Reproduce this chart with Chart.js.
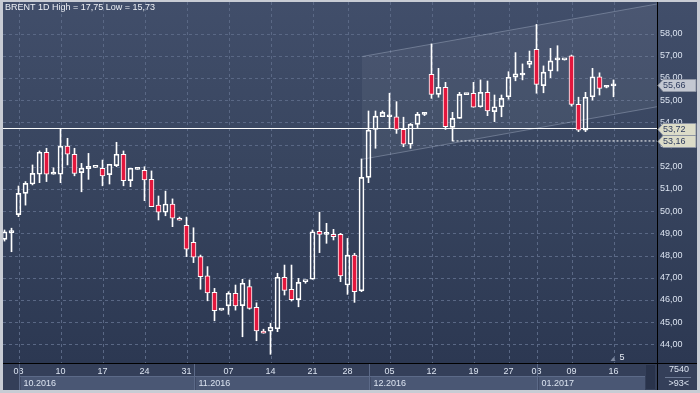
<!DOCTYPE html>
<html>
<head>
<meta charset="utf-8">
<script src="https://cdn.jsdelivr.net/npm/chart.js@4.4.0/dist/chart.umd.min.js"></script>
<style>
  html, body { margin: 0; padding: 0; background: #c8ccd4; }
  canvas { display: block; }
</style>
</head>
<body>
<canvas id="brentChart" width="700" height="393"></canvas>
<script>
// --- data (one candle per trading session, index 0..87) ---
const opens = [48.73, 49.03, 49.84, 50.80, 51.22, 51.66, 52.65, 51.66, 51.66, 52.93,
  52.56, 51.73, 51.91, 51.97, 51.93, 51.64, 52.05, 52.56, 51.37, 51.88,
  51.84, 51.43, 50.27, 49.95, 50.32, 49.68, 49.36, 48.59, 47.95, 47.08,
  46.34, 45.54, 45.73, 46.30, 45.74, 46.60, 45.67, 44.60, 44.59, 44.70,
  47.02, 46.48, 46.01, 46.82, 46.93, 49.09, 48.95, 48.95, 48.95, 46.67,
  48.02, 46.41, 51.52, 53.68, 54.25, 54.25, 54.25, 53.68, 53.01, 53.91,
  54.36, 56.16, 55.26, 55.58, 53.77, 54.18, 55.25, 55.31, 54.70, 55.35,
  54.48, 54.70, 55.15, 56.03, 56.13, 56.61, 57.29, 55.65, 56.31, 56.81,
  56.81, 56.99, 54.81, 53.65, 55.15, 56.05, 55.58, 55.64];
const highs = [49.15, 49.23, 51.13, 51.33, 52.08, 52.71, 52.83, 51.95, 53.73, 53.28,
  52.83, 52.15, 52.60, 51.97, 52.30, 52.11, 53.10, 52.71, 51.93, 51.92,
  52.00, 51.81, 50.68, 50.90, 50.55, 49.73, 49.73, 49.25, 48.02, 47.50,
  46.52, 45.54, 46.37, 46.67, 46.93, 46.90, 45.87, 44.68, 44.95, 47.20,
  47.57, 47.57, 46.97, 46.84, 49.15, 49.95, 49.45, 49.18, 49.00, 48.77,
  48.10, 52.35, 54.51, 54.51, 54.51, 55.31, 54.93, 54.23, 53.95, 54.45,
  54.45, 57.53, 56.43, 55.80, 54.45, 55.35, 55.29, 55.80, 55.91, 55.86,
  55.23, 55.23, 56.28, 57.14, 56.63, 57.21, 58.41, 56.54, 57.33, 57.45,
  56.81, 57.03, 55.13, 55.35, 56.43, 56.23, 55.62, 55.91];
const lows = [48.65, 48.17, 49.75, 50.27, 51.18, 51.28, 51.33, 51.66, 51.28, 52.08,
  51.59, 50.87, 51.43, 51.97, 51.14, 51.22, 52.00, 51.14, 51.10, 51.88,
  50.47, 50.20, 49.60, 49.79, 49.30, 49.59, 47.95, 47.68, 46.48, 45.96,
  45.06, 45.54, 45.35, 45.54, 44.34, 45.58, 44.16, 44.50, 43.55, 44.57,
  46.22, 45.95, 45.69, 46.75, 46.93, 48.13, 48.55, 48.70, 46.82, 46.25,
  45.89, 46.37, 51.28, 52.83, 54.25, 53.73, 53.50, 52.90, 52.83, 53.76,
  54.30, 55.08, 55.13, 53.68, 53.16, 54.18, 55.25, 54.68, 54.68, 54.30,
  54.03, 54.25, 55.04, 55.87, 55.91, 56.46, 55.31, 55.33, 56.01, 56.31,
  56.81, 54.73, 53.58, 53.58, 55.00, 55.23, 55.55, 55.15];
const closes = [49.07, 49.03, 50.80, 51.25, 51.70, 52.65, 51.66, 51.76, 52.93, 52.56,
  51.70, 51.93, 52.02, 51.97, 51.59, 52.11, 52.56, 51.37, 51.93, 51.92,
  51.41, 50.20, 49.95, 50.32, 49.68, 49.59, 48.28, 47.92, 47.05, 46.32,
  45.51, 45.54, 46.30, 45.73, 46.75, 45.62, 44.60, 44.50, 44.77, 47.02,
  46.43, 46.01, 46.79, 46.84, 49.07, 48.95, 48.95, 48.85, 47.08, 48.02,
  46.37, 51.52, 53.65, 54.28, 54.45, 54.25, 53.68, 53.01, 53.91, 54.36,
  54.36, 55.26, 55.58, 53.80, 54.18, 55.26, 55.29, 54.68, 55.35, 54.51,
  54.70, 55.08, 56.03, 56.18, 56.13, 56.76, 55.71, 56.26, 56.77, 56.81,
  56.81, 54.81, 53.65, 55.13, 56.05, 55.53, 55.58, 55.66];

// x axis: day labels on the weekly grid lines, month bands underneath
const dayTickIdx = [2, 8, 14, 20, 26, 32, 38, 44, 49, 55, 61, 67, 72, 76, 81, 87];
const dayTickLabels = ['03', '10', '17', '24', '31', '07', '14', '21', '28', '05', '12', '19', '27', '03', '09', '16'];
const monthStartIdx = [2, 27, 52, 76];
const monthLabels = ['10.2016', '11.2016', '12.2016', '01.2017'];

// y axis
const priceTicks = [44, 45, 46, 47, 48, 49, 50, 51, 52, 53, 54, 55, 56, 57, 58];

// drawings on the chart
const supportLevel = 53.72;
const lowLevel = 53.16;
const lowLevelFromIdx = 64;
const lastPrice = 55.66;
const channelIdx = [51.03, 93.2];
const channelUpper = [56.96, 59.33];
const channelLower = [52.33, 54.70];

const titleText = 'BRENT 1D High = 17,75 Low = 15,73';
const volText = '7540';
const zoomText = '>93<';
const markerText = '5';

// ---------------------------------------------------------------------------
const FONT = 'Liberation Sans, Arial, sans-serif';
const RED = '#e3173d';
const GRID = '#5a6885';
const X_MIN = -0.2143, X_MAX = 93.214;

const bodies = [], lowerWicks = [], upperWicks = [], bodyColors = [];
opens.forEach((o, i) => {
    const c = closes[i];
    bodies.push({ x: i, y: [o, c] });
    lowerWicks.push({ x: i, y: [lows[i], Math.min(o, c)] });
    upperWicks.push({ x: i, y: [Math.max(o, c), highs[i]] });
    bodyColors.push(c < o ? RED : 'rgba(0,0,0,0)');
});

const fmt = v => v.toFixed(2).replace('.', ',');

// backgrounds, frame, month band, price tags, labels
const decorPlugin = {
    id: 'decor',
    beforeDraw(chart) {
        const ctx = chart.ctx, a = chart.chartArea;
        ctx.save();
        ctx.fillStyle = '#c8ccd4';
        ctx.fillRect(0, 0, 700, 393);
        ctx.fillStyle = '#343f59';
        ctx.fillRect(3, 2, 694, 388);
        const g = ctx.createLinearGradient(0, a.top, 0, a.bottom);
        g.addColorStop(0, '#414e6a');
        g.addColorStop(0.45, '#38455f');
        g.addColorStop(1, '#2c3852');
        ctx.fillStyle = g;
        ctx.fillRect(a.left, a.top, 697 - a.left, a.bottom - a.top);
        ctx.restore();
    },
    // dashed grid at the scale ticks
    beforeDatasetsDraw(chart) {
        const ctx = chart.ctx, a = chart.chartArea;
        const xs = chart.scales.x, ys = chart.scales.y;
        ctx.save();
        ctx.strokeStyle = GRID;
        ctx.lineWidth = 1;
        ctx.setLineDash([3, 3]);
        ctx.beginPath();
        dayTickIdx.forEach(v => {
            const x = Math.round(xs.getPixelForValue(v)) + 0.5;
            ctx.moveTo(x, a.top); ctx.lineTo(x, a.bottom);
        });
        priceTicks.forEach(v => {
            const y = Math.round(ys.getPixelForValue(v)) + 0.5;
            ctx.moveTo(a.left, y); ctx.lineTo(a.right, y);
        });
        ctx.stroke();
        ctx.restore();
    },
    afterDraw(chart) {
        const ctx = chart.ctx, a = chart.chartArea;
        const xs = chart.scales.x, ys = chart.scales.y;
        ctx.save();

        // month band
        const bandTop = 377, bandBot = 390;
        monthStartIdx.forEach((m, k) => {
            const x1 = Math.round(xs.getPixelForValue(m)) + 0.5;
            const x2 = k < monthStartIdx.length - 1 ? Math.round(xs.getPixelForValue(monthStartIdx[k + 1])) : 645;
            ctx.fillStyle = '#4a5774';
            ctx.fillRect(x1 + 1, bandTop, x2 - x1 - 1, bandBot - bandTop);
            ctx.strokeStyle = '#5c6a88';
            ctx.lineWidth = 1;
            ctx.beginPath();
            ctx.moveTo(x1, a.bottom); ctx.lineTo(x1, bandBot);
            ctx.moveTo(x1, bandTop - 0.5); ctx.lineTo(x2, bandTop - 0.5);
            ctx.stroke();
            ctx.fillStyle = '#dbe3f0';
            ctx.font = '9px ' + FONT;
            ctx.textBaseline = 'middle';
            ctx.textAlign = 'left';
            ctx.fillText(monthLabels[k], x1 + 4, 384);
        });
        ctx.fillStyle = '#29334b';
        ctx.fillRect(646, 365, 9, 24);

        // frame lines
        ctx.strokeStyle = '#000';
        ctx.lineWidth = 1;
        ctx.beginPath();
        ctx.moveTo(a.right + 0.5, 2); ctx.lineTo(a.right + 0.5, 390);
        ctx.moveTo(3, a.bottom + 0.5); ctx.lineTo(697, a.bottom + 0.5);
        ctx.stroke();

        // title
        ctx.fillStyle = '#eef1f6';
        ctx.font = '9px ' + FONT;
        ctx.textAlign = 'left';
        ctx.textBaseline = 'middle';
        ctx.fillText(titleText, 5, 8);

        // price tags
        const tag = (v, bg) => {
            const y = Math.round(ys.getPixelForValue(v)) + 0.5;
            const x0 = a.right + 1;
            ctx.beginPath();
            ctx.moveTo(x0, y);
            ctx.lineTo(x0 + 5, y - 6);
            ctx.lineTo(x0 + 38, y - 6);
            ctx.lineTo(x0 + 38, y + 6);
            ctx.lineTo(x0 + 5, y + 6);
            ctx.closePath();
            ctx.fillStyle = bg;
            ctx.fill();
            ctx.strokeStyle = '#8d94a3';
            ctx.stroke();
            ctx.fillStyle = '#2f3d5e';
            ctx.font = '9px ' + FONT;
            ctx.textAlign = 'left';
            ctx.fillText(fmt(v), x0 + 5, y + 0.5);
        };
        tag(lastPrice, '#c3c8d2');
        tag(supportLevel, '#dcdcc8');
        tag(lowLevel, '#dcdcc8');

        // bottom-right box
        ctx.fillStyle = '#dbe3f0';
        ctx.textAlign = 'right';
        ctx.fillText(volText, 689, 370);
        ctx.fillText(zoomText, 689, 384);
        ctx.strokeStyle = '#6b7893';
        ctx.beginPath();
        ctx.moveTo(665, 377.5); ctx.lineTo(691, 377.5);
        ctx.stroke();

        // small marker near the last candles
        const mx = xs.getPixelForValue(87);
        ctx.fillStyle = '#7d889f';
        ctx.beginPath();
        ctx.moveTo(mx - 3, 361); ctx.lineTo(mx, 357); ctx.lineTo(mx + 2, 361);
        ctx.closePath();
        ctx.fill();
        ctx.fillStyle = '#e8edf5';
        ctx.textAlign = 'left';
        ctx.fillText(markerText, mx + 6, 358);
        ctx.restore();
    }
};

new Chart(document.getElementById('brentChart'), {
    type: 'bar',
    data: {
        datasets: [
            {
                type: 'bar', data: bodies, order: 0,
                backgroundColor: bodyColors, borderColor: '#ffffff', borderWidth: 1,
                borderSkipped: false, barThickness: 5, minBarLength: 2, grouped: false
            },
            {
                type: 'bar', data: lowerWicks, order: 1,
                backgroundColor: '#ffffff', borderWidth: 0, barThickness: 1, grouped: false
            },
            {
                type: 'bar', data: upperWicks, order: 1,
                backgroundColor: '#ffffff', borderWidth: 0, barThickness: 1, grouped: false
            },
            {
                type: 'line', order: 2, pointRadius: 0, borderWidth: 1, borderColor: '#ffffff',
                data: [{ x: X_MIN, y: supportLevel }, { x: X_MAX, y: supportLevel }]
            },
            {
                type: 'line', order: 2, pointRadius: 0, borderWidth: 1, borderColor: '#ffffff',
                borderDash: [2, 2],
                data: [{ x: lowLevelFromIdx, y: lowLevel }, { x: X_MAX, y: lowLevel }]
            },
            {
                type: 'line', order: 3, pointRadius: 0, borderWidth: 1,
                borderColor: 'rgba(190,200,220,0.35)', fill: false,
                data: channelIdx.map((x, k) => ({ x, y: channelUpper[k] }))
            },
            {
                type: 'line', order: 3, pointRadius: 0, borderWidth: 1,
                borderColor: 'rgba(190,200,220,0.35)', fill: '-1',
                backgroundColor: 'rgba(255,255,255,0.055)',
                data: channelIdx.map((x, k) => ({ x, y: channelLower[k] }))
            }
        ]
    },
    options: {
        responsive: false,
        animation: false,
        devicePixelRatio: 1,
        layout: { padding: { left: 3, top: 2, right: 3, bottom: 3 } },
        plugins: { legend: { display: false }, tooltip: { enabled: false } },
        scales: {
            x: {
                type: 'linear', min: X_MIN, max: X_MAX, offset: false,
                grid: { display: false, drawTicks: false, offset: false },
                border: { display: false },
                afterBuildTicks: s => { s.ticks = dayTickIdx.map(v => ({ value: v })); },
                afterFit: s => { s.height = 27; s.paddingLeft = 0; s.paddingRight = 0; },
                ticks: {
                    autoSkip: false, maxRotation: 0, padding: 3,
                    color: '#dbe3f0', font: { family: FONT, size: 9 },
                    callback: (v, i) => dayTickLabels[i]
                }
            },
            y: {
                position: 'right', min: 43.158, max: 59.419, beginAtZero: false,
                grid: { display: false, drawTicks: false },
                border: { display: false },
                afterBuildTicks: s => { s.ticks = priceTicks.map(v => ({ value: v })); },
                afterFit: s => { s.width = 40; s.paddingTop = 0; s.paddingBottom = 0; },
                ticks: {
                    padding: 3, color: '#dbe3f0', font: { family: FONT, size: 9 },
                    callback: v => fmt(v)
                }
            }
        }
    },
    plugins: [decorPlugin]
});
</script>
</body>
</html>
